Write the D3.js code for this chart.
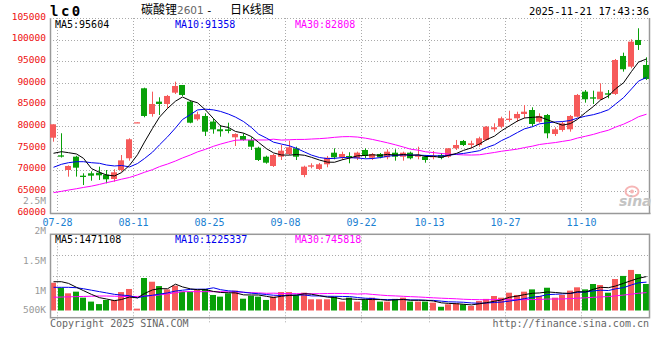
<!DOCTYPE html>
<html><head><meta charset="utf-8">
<script src="https://cdn.jsdelivr.net/npm/d3@7"></script>
<style>
html,body{margin:0;padding:0;background:#fff;}
svg{display:block;}
text{font-family:"DejaVu Sans Mono","Liberation Mono",monospace;font-size:10px;}
</style></head><body>
<svg id="c" width="660" height="360"></svg>
<script>
// ---------- data ----------
const dates = ["07-28","07-29","07-30","07-31","08-01","08-04","08-05","08-06","08-07","08-08",
"08-11","08-12","08-13","08-14","08-15","08-18","08-19","08-20","08-21","08-22",
"08-25","08-26","08-27","08-28","08-29","09-01","09-02","09-03","09-04","09-05",
"09-08","09-09","09-10","09-11","09-12","09-15","09-16","09-17","09-18","09-19",
"09-22","09-23","09-24","09-25","09-26","09-29","09-30","10-09","10-10",
"10-13","10-14","10-15","10-16","10-17","10-20","10-21","10-22","10-23","10-24",
"10-27","10-28","10-29","10-30","10-31","11-03","11-04","11-05","11-06","11-07",
"11-10","11-11","11-12","11-13","11-14","11-17","11-18","11-19","11-20","11-21"];

const openP = [77380,73300,69920,73000,68610,69160,69300,68840,67850,69920,
72630,80800,88780,82850,85700,85160,87770,89540,85700,81630,
82390,81100,79320,79300,77470,77770,76850,75070,72990,70850,
72990,73620,74930,68770,70690,70160,71240,73920,72860,73160,
72630,74540,72760,73620,72860,73920,72990,73920,72990,
72990,72860,73390,72990,74930,76620,75690,75690,76850,79320,
79920,81460,81860,82850,83770,81070,82620,78230,79160,79320,
82230,88000,86700,86240,87620,87470,96240,93770,99930,94160];
const highP = [80470,78400,71000,73200,69160,69620,70690,69920,70090,73380,
77240,80930,88920,88000,86700,87240,90310,89540,86000,83380,
83000,81800,80310,80840,78390,78390,77470,75300,73220,73620,
75690,76690,75300,70920,71470,71550,73160,74930,74150,74010,
74150,74930,73850,73850,74700,74700,74150,74150,75300,
73390,74310,73850,75000,76850,76850,76690,77610,80080,80700,
82230,83610,83380,84930,84390,83000,82850,79780,81070,82620,
87470,88380,88230,89930,88380,95540,97000,100090,102630,95930];
const lowP = [76460,72800,68380,68400,66460,67450,67620,66850,67220,69530,
72070,80800,82090,82230,82620,84160,87460,87000,80700,81300,
77770,78300,77610,78390,75460,76690,74540,72000,71380,70620,
72230,73390,72230,68240,70310,69930,70550,72390,72230,71470,
72230,72630,72230,72630,72390,72070,72070,72390,72390,
71610,72390,72390,72760,74540,75460,74930,75300,76690,78770,
79550,81070,81070,81860,79920,80840,77240,77770,78770,78770,
82080,85460,85160,86080,86470,87240,92620,93400,97620,90700];
const closeP = [80470,73000,70850,70460,68310,68610,68700,67780,69390,72150,
77010,80930,82390,85160,85160,87010,89310,87240,80840,82780,
78770,79300,78860,78930,78230,76850,75300,72230,71610,73390,
74380,75160,72990,70690,71000,71240,72760,72860,73620,72860,
73920,73160,73620,72860,74150,72990,73920,72630,73390,
72230,73160,72760,74930,75690,75690,76080,77240,79920,79780,
81860,81770,82850,83380,80540,82390,78390,79320,80700,82390,
87240,86240,86390,88000,87310,95310,93170,99540,98770,90930];
const volume = [1340000,1100000,830000,910000,620000,430000,310000,510000,510000,890000,
1040000,90000,1570000,1390000,1180000,1020000,1200000,910000,910000,990000,
1040000,750000,670000,830000,960000,570000,710000,670000,510000,670000,
890000,890000,750000,860000,540000,540000,540000,670000,430000,620000,
430000,540000,620000,430000,430000,560000,620000,430000,430000,
430000,380000,180000,300000,350000,300000,220000,460000,560000,700000,
620000,860000,750000,910000,1020000,700000,1100000,620000,750000,960000,
1120000,1020000,1280000,1230000,860000,1520000,1670000,1960000,1760000,1280000];

// moving-average values before a full window exists
const pMa5Head = [73780,74150,73920,73620];
const pMa10Head = [70550,71240,71610,71840,71840,71610,71470,71080,70850];
const pMa30Head = [64700,65000,65300,65600,65900,66200,66600,67000,67400,67800,
68200,68800,69400,70000,70700,71300,72000,72700,73400,74100,
74700,75400,75900,76400,76800,76850,76850,76850,76850];
const vMa5Head = [1390000,1390000,1310000,1120000];
const vMa10Head = [1120000,1120000,1120000,1100000,1050000,980000,910000,850000,780000];
const vMa30Head = [640000,650000,660000,670000,680000,690000,700000,700000,690000,680000,
670000,680000,700000,720000,750000,800000,860000,910000,910000,910000,
910000,910000,910000,900000,900000,880000,860000,850000,830000];

const priceTicks = [105000,100000,95000,90000,85000,80000,75000,70000,65000,60000];
const volTickValues = [2500000,2000000,1500000,1000000,500000];
const volTickLabels = ["2.5M","2M","1.5M","1M","500K"];
const dateTicks = ["07-28","08-11","08-25","09-08","09-22","10-13","10-27","11-10"];
const priceLegend = ["MA5:95604","MA10:91358","MA30:82808"];
const volLegend = ["MA5:1471108","MA10:1225337","MA30:745818"];
const maColors = ["#000000","#0000ee","#ff00ff"];

// ---------- layout ----------
const svg = d3.select("#c");
const L = 50, R = 650, pTop = 18, pBot = 213, vTop = 234.3, vBot = 317.7;
const RED = "#f65a5a", GREEN = "#08a008", GRID = "#aaaaaa", FRAME = "#999999";

const x = d3.scaleBand().domain(dates).range([49.2, 49.2 + dates.length * 7.6]);
const bw = x.bandwidth();
const cx = d => Math.round(x(d) + bw / 2) + 0.5;
const gx = d => Math.round(x(d) + bw) + 0.5;
const py = d3.scaleLinear().domain([60000, 105000]).range([pBot, pTop]);
const vy = d3.scaleLinear().domain([0, 3700000]).range([310.5, 233.9]);
const vLab = d3.scaleLinear().domain([1000000, 2500000]).range([291, 201]);

function movingAvg(src, n, head) {
  return src.map((_, i) => i < n - 1 ? head[i] : d3.mean(src.slice(i - n + 1, i + 1)));
}
const pMa = [movingAvg(closeP, 5, pMa5Head), movingAvg(closeP, 10, pMa10Head), movingAvg(closeP, 30, pMa30Head)];
const vMa = [movingAvg(volume, 5, vMa5Head), movingAvg(volume, 10, vMa10Head), movingAvg(volume, 30, vMa30Head)];

// ---------- header ----------
svg.append("text").attr("x", 50).attr("y", 16).attr("font-weight", "bold")
  .style("font-size", "14px").attr("letter-spacing", "2.5").text("lc0");
const cjk = "'Noto Sans CJK SC', sans-serif";
svg.append("text").attr("x", 141).attr("y", 14).style("font-family", cjk).style("font-size", "12px").text("碳酸锂");
svg.append("text").attr("x", 177).attr("y", 14).attr("fill", "#666")
  .style("font-family", "'DejaVu Sans', sans-serif").style("font-size", "10.5px").text("2601");
svg.append("text").attr("x", 206).attr("y", 14).style("font-size", "11px").text("-");
svg.append("text").attr("x", 230).attr("y", 14).style("font-family", cjk).style("font-size", "12px").text("日K线图");
svg.append("text").attr("x", 649).attr("y", 15).attr("text-anchor", "end")
  .style("font-size", "10.5px").text("2025-11-21 17:43:36");

// ---------- price panel grid ----------
const gP = svg.append("g");
gP.selectAll(".hg").data(priceTicks.slice(0, -1)).join("line")
  .attr("x1", L).attr("x2", R)
  .attr("y1", d => Math.round(py(d)) + 0.5).attr("y2", d => Math.round(py(d)) + 0.5)
  .attr("stroke", GRID).attr("stroke-dasharray", "1,2");
gP.selectAll(".vg").data(dateTicks).join("line")
  .attr("x1", gx).attr("x2", gx).attr("y1", pTop).attr("y2", pBot)
  .attr("stroke", GRID).attr("stroke-dasharray", "1,2");
gP.append("line").attr("x1", 50.5).attr("x2", 50.5).attr("y1", pTop).attr("y2", pBot + 1).attr("stroke", FRAME).attr("stroke-width", 1.5);
gP.append("line").attr("x1", 649.5).attr("x2", 649.5).attr("y1", pTop).attr("y2", pBot + 1).attr("stroke", FRAME).attr("stroke-width", 1.5);
gP.append("line").attr("x1", L).attr("x2", R + 0.5).attr("y1", pBot + 0.5).attr("y2", pBot + 0.5).attr("stroke", FRAME).attr("stroke-width", 1.5);

// price labels
svg.selectAll(".pl").data(priceTicks).join("text")
  .attr("x", 46).attr("y", d => py(d) - 1.5).attr("dy", "0.35em")
  .attr("text-anchor", "end").attr("fill", "#ee1111").style("font-size", "9.5px")
  .text(d => d);
// volume labels (left column)
svg.selectAll(".vl").data(volTickValues).join("text")
  .attr("x", 46).attr("y", d => Math.min(310, vLab(d))).attr("dy", "0.35em")
  .attr("text-anchor", "end").attr("fill", "#999").style("font-size", "9.5px")
  .text((d, i) => volTickLabels[i]);
// date labels
svg.selectAll(".dl").data(dateTicks).join("text")
  .attr("x", gx).attr("y", 222).attr("dy", "0.35em")
  .attr("text-anchor", "middle").attr("fill", "#1a80d2")
  .text(d => d);

// watermark
const wm = svg.append("g");
wm.append("ellipse").attr("cx", 632).attr("cy", 191.5).attr("rx", 6.5).attr("ry", 5)
  .attr("fill", "none").attr("stroke", "#f6b6b6").attr("stroke-width", 2);
wm.append("circle").attr("cx", 632).attr("cy", 191.5).attr("r", 2).attr("fill", "#f6b6b6");
wm.append("text").attr("x", 619).attr("y", 206)
  .style("font-family", "'DejaVu Sans', sans-serif").style("font-size", "14px")
  .attr("font-weight", "bold").attr("font-style", "italic").attr("fill", "#c4c4c4").text("sina");

// ---------- candles ----------
const idx = d3.range(dates.length);
const cg = svg.append("g");
const col = i => closeP[i] >= openP[i] ? RED : GREEN;
cg.selectAll(".wick").data(idx).join("line")
  .attr("x1", i => cx(dates[i])).attr("x2", i => cx(dates[i]))
  .attr("y1", i => py(highP[i])).attr("y2", i => py(lowP[i]))
  .attr("stroke", col);
cg.selectAll(".body").data(idx).join("rect")
  .attr("x", i => cx(dates[i]) - 3.5).attr("width", 6)
  .attr("y", i => py(Math.max(openP[i], closeP[i])))
  .attr("height", i => Math.max(1.2, Math.abs(py(openP[i]) - py(closeP[i]))))
  .attr("fill", col);

// price MA lines
svg.append("clipPath").attr("id", "cp").append("rect")
  .attr("x", L).attr("y", pTop).attr("width", R - L).attr("height", pBot - pTop);
const lineP = d3.line().x((v, i) => cx(dates[i])).y(v => py(v));
[2, 1, 0].forEach(k => {
  svg.append("path").attr("d", lineP(pMa[k])).attr("fill", "none")
    .attr("stroke", maColors[k]).attr("stroke-width", 1).attr("clip-path", "url(#cp)");
});
// price legend
const legX = [55, 175, 295];
priceLegend.forEach((s, k) => {
  svg.append("text").attr("x", legX[k]).attr("y", 27.5).attr("fill", maColors[k]).text(s);
});
gP.append("line").attr("x1", L).attr("x2", R).attr("y1", pTop + 0.5).attr("y2", pTop + 0.5)
  .attr("stroke", GRID).attr("stroke-dasharray", "1,2");

// ---------- volume panel ----------
const gV = svg.append("g");
[255, 275.7].forEach(yy => {
  gV.append("line").attr("x1", L).attr("x2", R).attr("y1", Math.round(yy) + 0.5).attr("y2", Math.round(yy) + 0.5)
    .attr("stroke", GRID).attr("stroke-dasharray", "1,2");
});
gV.selectAll(".vg").data(dateTicks).join("line")
  .attr("x1", gx).attr("x2", gx).attr("y1", vTop).attr("y2", vBot + 6)
  .attr("stroke", GRID).attr("stroke-dasharray", "1,2");
gV.selectAll(".bar").data(idx).join("rect")
  .attr("x", i => cx(dates[i]) - 3.5).attr("width", 6)
  .attr("y", i => vy(volume[i])).attr("height", i => vy(0) - vy(volume[i]))
  .attr("fill", col);
const lineV = d3.line().x((v, i) => cx(dates[i])).y(v => vy(v));
[2, 1, 0].forEach(k => {
  gV.append("path").attr("d", lineV(vMa[k])).attr("fill", "none")
    .attr("stroke", maColors[k]).attr("stroke-width", 1);
});
gV.append("rect").attr("x", 50.5).attr("y", vTop).attr("width", 599).attr("height", vBot - vTop)
  .attr("fill", "none").attr("stroke", FRAME).attr("stroke-width", 1.5);
volLegend.forEach((s, k) => {
  svg.append("text").attr("x", legX[k]).attr("y", 242.5).attr("fill", maColors[k]).text(s);
});

// footer
svg.append("text").attr("x", 50).attr("y", 327).attr("fill", "#666").text("Copyright 2025 SINA.COM");
svg.append("text").attr("x", 649).attr("y", 327).attr("text-anchor", "end").attr("fill", "#666").text("http://finance.sina.com.cn");
</script>
</body></html>
